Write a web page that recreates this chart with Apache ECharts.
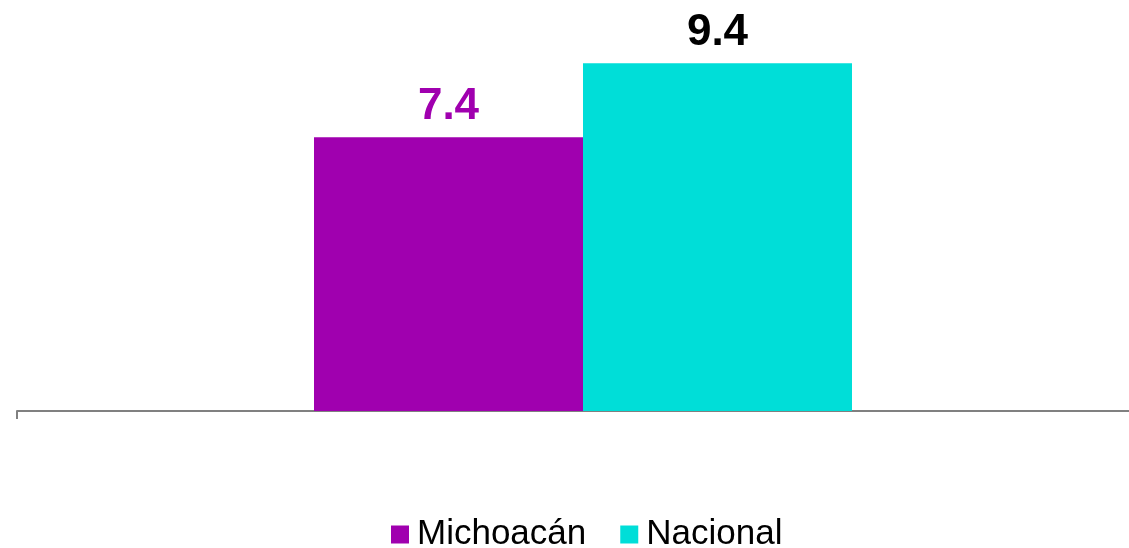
<!DOCTYPE html>
<html>
<head>
<meta charset="utf-8">
<script src="https://cdn.jsdelivr.net/npm/echarts@6/dist/echarts.min.js"></script>
<style>
  html, body { margin: 0; padding: 0; background: #fff; }
  #chart { width: 1129px; height: 548px; }
</style>
</head>
<body>
<div id="chart"></div>
<script>
// Data
const categories = [""];
const michoacan = [7.4];
const nacional = [9.4];

const chart = echarts.init(document.getElementById("chart"));

const labelFont = {
  fontFamily: "Liberation Sans, Arial",
  fontWeight: "bold",
  fontSize: 44,
};

chart.setOption({
  animation: false,
  grid: { left: 17, width: 1132, top: 41, bottom: 137, outerBoundsMode: "none" },
  legend: {
    top: 512,
    left: 386,
    itemWidth: 18,
    itemHeight: 18,
    itemGap: 34,
    icon: "rect",
    textStyle: {
      fontFamily: "Liberation Sans, Arial",
      fontSize: 35,
      color: "#000",
      padding: [0, 0, 0, 3],
    },
    data: ["Michoacán", "Nacional"],
  },
  xAxis: {
    type: "category",
    data: categories,
    axisLine: { lineStyle: { color: "#808080", width: 2 } },
    axisTick: { show: true, length: 8, lineStyle: { color: "#808080", width: 2 } },
    axisLabel: { show: false },
  },
  yAxis: {
    type: "value",
    min: 0,
    max: 10,
    show: false,
    splitLine: { show: false },
  },
  series: [
    {
      name: "Michoacán",
      type: "bar",
      data: michoacan,
      barWidth: 269,
      barGap: "0%",
      itemStyle: { color: "#A000AF" },
      label: {
        show: true,
        position: "top",
        distance: 8,
        color: "#A000AF",
        ...labelFont,
      },
    },
    {
      name: "Nacional",
      type: "bar",
      data: nacional,
      barWidth: 269,
      barGap: "0%",
      itemStyle: { color: "#00DED8" },
      label: {
        show: true,
        position: "top",
        distance: 8,
        color: "#000",
        ...labelFont,
      },
    },
  ],
});
</script>
</body>
</html>
